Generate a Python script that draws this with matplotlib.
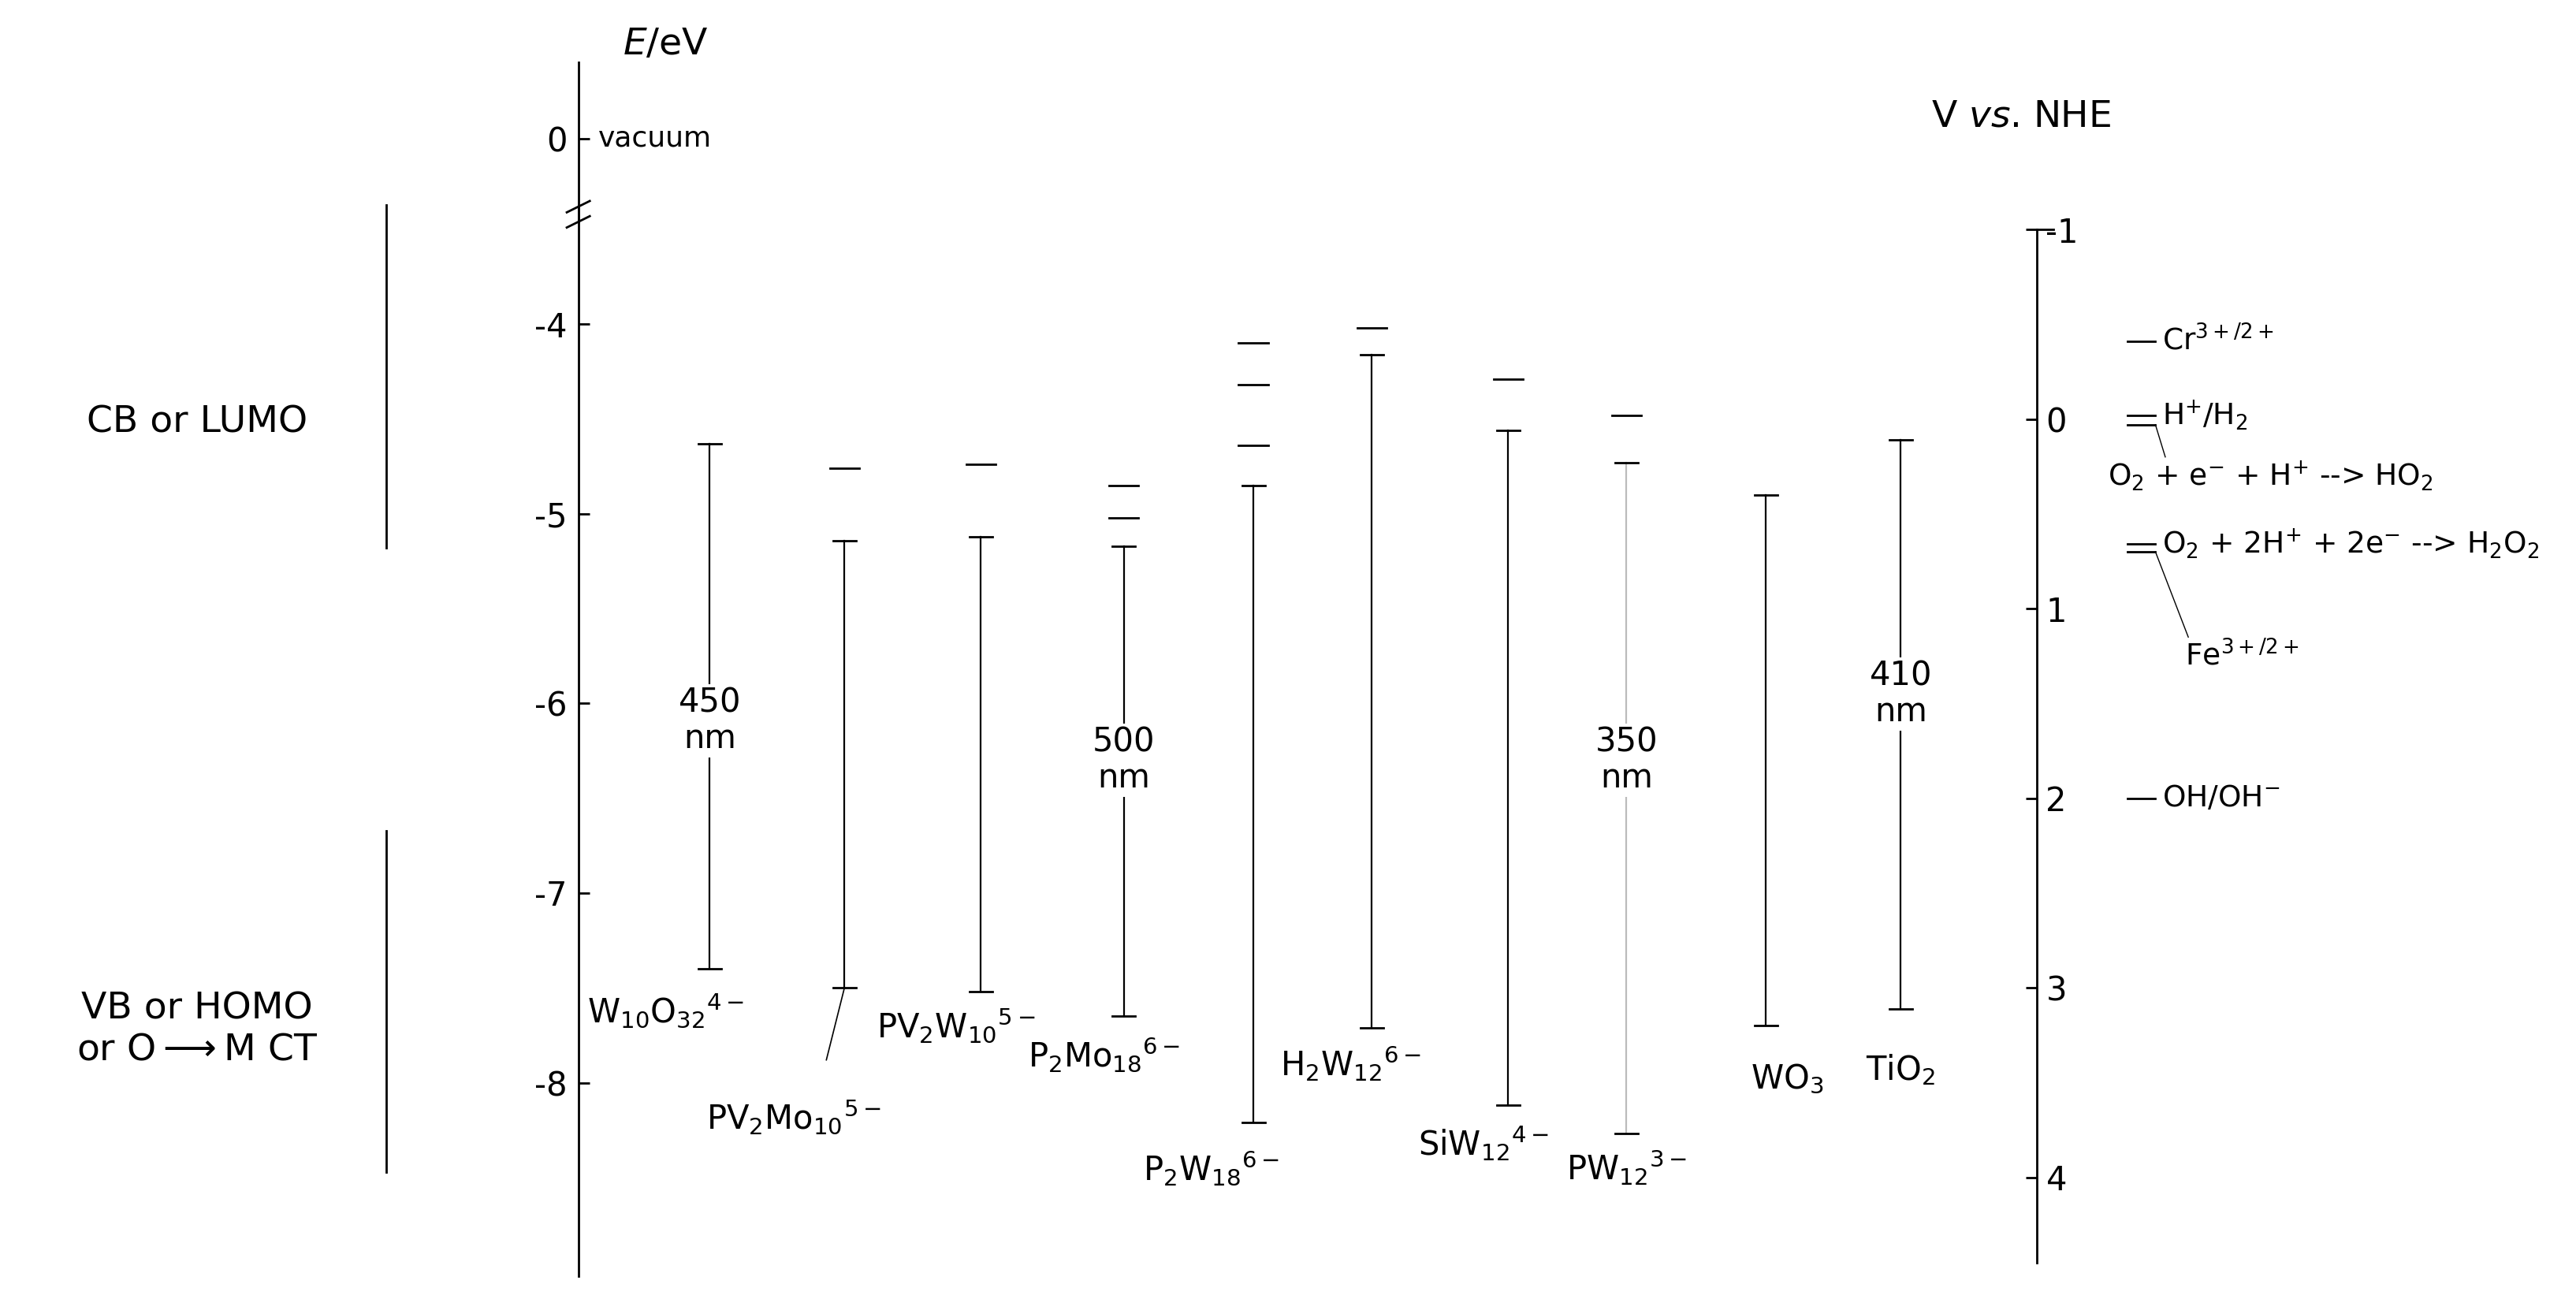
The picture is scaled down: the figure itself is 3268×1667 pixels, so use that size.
import matplotlib
matplotlib.use("Agg")
import matplotlib.pyplot as plt
plt.rcParams["axes.unicode_minus"] = False

# ---- data ----
names = [r"W$_{10}$O$_{32}$$^{4-}$", r"PV$_2$Mo$_{10}$$^{5-}$", r"PV$_2$W$_{10}$$^{5-}$",
         r"P$_2$Mo$_{18}$$^{6-}$", r"P$_2$W$_{18}$$^{6-}$", r"H$_2$W$_{12}$$^{6-}$",
         r"SiW$_{12}$$^{4-}$", r"PW$_{12}$$^{3-}$", r"WO$_3$", r"TiO$_2$"]
bar_x = [432, 514, 597, 684, 763, 835, 918, 990, 1075, 1157]
line_top = [-4.63, -5.14, -5.12, -5.17, -4.85, -4.16, -4.56, -4.73, -4.90, -4.61]
line_bottom = [-7.40, -7.50, -7.52, -7.65, -8.21, -7.71, -8.12, -8.27, -7.70, -7.61]
extra_levels = [[], [-4.76], [-4.74], [-4.85, -5.02], [-4.10, -4.32, -4.64], [-4.02],
                [-4.29], [-4.48], [], []]
label_x = [405, 483, 582, 672, 737, 822, 903, 990, 1088, 1157]
label_y = [-7.62, -8.18, -7.70, -7.85, -8.45, -7.90, -8.32, -8.45, -7.98, -7.93]
gap_text = {0: ("450\nnm", -6.09), 3: ("500\nnm", -6.30), 7: ("350\nnm", -6.30), 9: ("410\nnm", -5.95)}

redox_nhe = [-0.41, -0.02, 0.03, 0.66, 0.70, 2.0]
redox_labels = [r"Cr$^{3+/2+}$", r"H$^{+}$/H$_2$", "", r"O$_2$ + 2H$^{+}$ + 2e$^{-}$ --> H$_2$O$_2$",
                r"Fe$^{3+/2+}$", r"OH/OH$^{-}$"]

E_ticks = [-4, -5, -6, -7, -8]
nhe_ticks = [-1, 0, 1, 2, 3, 4]
vacuum_pos = -3.02

YLO, YHI = -9.22, -2.29

fig = plt.figure(figsize=(32.68, 16.67), dpi=100)
ax = fig.add_axes([0, 0, 1, 1])
ax.set_xlim(0, 1568)
ax.set_ylim(YLO, YHI)
for s in ["top", "right", "bottom"]:
    ax.spines[s].set_visible(False)
ax.spines["left"].set_position(("data", 352))
ax.spines["left"].set_bounds(-9.02, -3.38)
ax.spines["left"].set_linewidth(2)
ax.set_xticks([])
ax.set_yticks(E_ticks + [vacuum_pos])
ax.set_yticklabels([str(t) for t in E_ticks] + ["0"])
ax.tick_params(axis="y", direction="in", length=10, width=2, labelsize=30, pad=10)
ax.plot([352, 352], [-3.46, -2.62], color="k", lw=2)
for yb in (-3.38, -3.46):
    ax.plot([345, 359], [yb - 0.03, yb + 0.03], color="k", lw=2)
ax.text(364, vacuum_pos, "vacuum", fontsize=26, va="center")
ax.text(405, -2.62, r"$E$/eV", fontsize=34, ha="center", va="bottom")

fs = 34
ax.plot([235, 235], [-3.37, -5.18], color="k", lw=2)
ax.plot([235, 235], [-6.67, -8.47], color="k", lw=2)
ax.text(120, -4.52, "CB or LUMO", fontsize=fs, ha="center", va="center")
ax.text(120, -7.72, "VB or HOMO\nor O$\\longrightarrow$M CT", fontsize=fs, ha="center", va="center",
        linespacing=1.2)

for i, x in enumerate(bar_x):
    col = "#bbbbbb" if i == 7 else "k"
    ax.plot([x, x], [line_top[i], line_bottom[i]], color=col, lw=1.6)
    ax.plot([x - 7, x + 7], [line_top[i]] * 2, color="k", lw=2)
    ax.plot([x - 7, x + 7], [line_bottom[i]] * 2, color="k", lw=2)
    for e in extra_levels[i]:
        ax.plot([x - 9, x + 9], [e, e], color="k", lw=2)
    if i in gap_text:
        t, yy = gap_text[i]
        ax.text(x, yy, t, fontsize=30, ha="center", va="center",
                bbox=dict(fc="white", ec="none", pad=2), linespacing=1.1)
    ax.text(label_x[i], label_y[i], names[i], fontsize=30, ha="center", va="center")
ax.plot([514, 503], [-7.50, -7.88], color="k", lw=1.2)

ax2 = ax.twinx()
ax2.set_ylim(-YLO - 4.5, -YHI - 4.5)
for s in ["top", "left", "bottom"]:
    ax2.spines[s].set_visible(False)
ax2.spines["right"].set_position(("data", 1240))
ax2.spines["right"].set_bounds(-1, 4.45)
ax2.spines["right"].set_linewidth(2)
ax2.set_yticks(nhe_ticks)
ax2.tick_params(axis="y", direction="in", length=10, width=2, labelsize=30, pad=8,
                labelright=True)
ax2.plot([1240, 1250], [-1, -1], color="k", lw=2)
ax2.text(1230, -1.5, r"V $vs$. NHE", fontsize=34, ha="center", va="bottom")

for v, lab in zip(redox_nhe, redox_labels):
    ax2.plot([1295, 1312], [v, v], color="k", lw=2)
    if lab:
        fe = lab == redox_labels[4]
        ax2.text(1330 if fe else 1316, v + (0.55 if fe else 0), lab, fontsize=27, va="center")
ax2.text(1283, 0.30, r"O$_2$ + e$^{-}$ + H$^{+}$ --> HO$_2$", fontsize=27, va="center")
ax2.plot([1312, 1318], [0.03, 0.2], color="k", lw=1)
ax2.plot([1312, 1332], [0.70, 1.15], color="k", lw=1)

fig.savefig("out.png", dpi=100)
